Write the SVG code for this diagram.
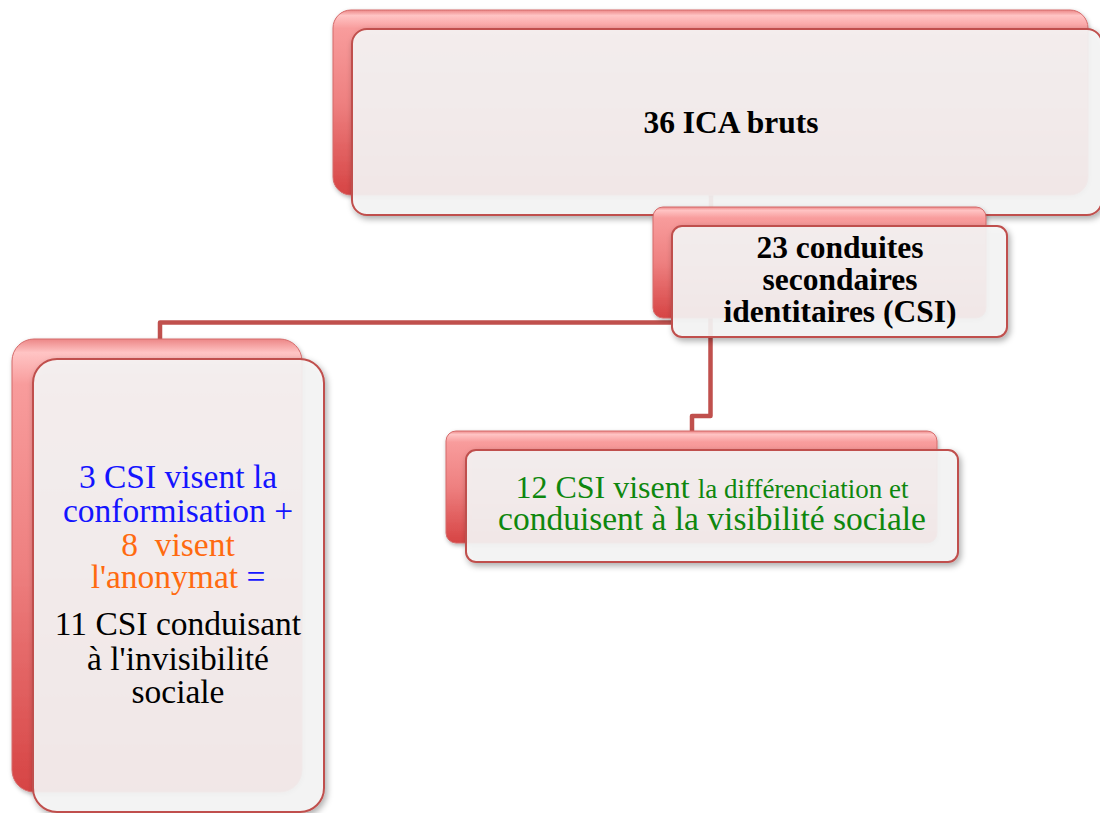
<svg xmlns="http://www.w3.org/2000/svg" width="1100" height="813" viewBox="0 0 1100 813">
<defs>
<linearGradient id="backGrad" x1="0" y1="0" x2="0" y2="1">
<stop offset="0" stop-color="#ec8686"/>
<stop offset="0.03" stop-color="#ffc4c4"/>
<stop offset="0.10" stop-color="#f89c9c"/>
<stop offset="0.5" stop-color="#ee8080"/>
<stop offset="1" stop-color="#d64444"/>
</linearGradient>
<filter id="shadow" x="-10%" y="-10%" width="125%" height="130%">
<feDropShadow dx="2" dy="3" stdDeviation="3" flood-color="#000" flood-opacity="0.35"/>
</filter>
<filter id="backShadow" x="-10%" y="-10%" width="125%" height="130%">
<feDropShadow dx="1" dy="2" stdDeviation="2" flood-color="#000" flood-opacity="0.3"/>
</filter>
</defs>
<style>
.back { fill: url(#backGrad); stroke: #d46a6a; stroke-width: 1; filter: url(#backShadow); }
.front { fill: #f6f6f6; fill-opacity: 0.9; stroke: #c0504d; stroke-width: 2; filter: url(#shadow); }
.conn { fill: none; stroke: #c0504d; stroke-width: 4.5; stroke-linejoin: round; }
text { font-family: "Liberation Serif", "Times New Roman", serif; text-anchor: middle; }
.b { font-weight: bold; font-size: 31.5px; fill: #000; }
.r { font-size: 33.5px; }
</style>
<g id="connectors">
<path class="conn" d="M711 195 V225"/>
<path class="conn" d="M160 340 V322.5 H672"/>
<path class="conn" d="M710.5 318 V416 H692 V431"/>
</g>
<g id="node-ica">
<rect class="back" x="333" y="10" width="755" height="185" rx="18"/>
<rect class="front" x="352" y="29" width="750" height="186" rx="15"/>
<text class="b" x="731" y="133" font-size="32.5">36 ICA bruts</text>
</g>
<g id="node-csi">
<rect class="back" x="653" y="207" width="333" height="111" rx="10"/>
<rect class="front" x="672" y="226" width="335" height="111" rx="10"/>
<text class="b" x="840" y="258">23 conduites</text>
<text class="b" x="840" y="290">secondaires</text>
<text class="b" x="840" y="322">identitaires (CSI)</text>
</g>
<g id="node-invisibilite">
<rect class="back" x="12" y="339" width="290" height="453" rx="22"/>
<rect class="front" x="33" y="359" width="291" height="453" rx="24"/>
<text class="r" x="178" y="488" fill="#1414ff">3 CSI visent la</text>
<text class="r" x="178" y="522" fill="#1414ff">conformisation +</text>
<text class="r" x="178" y="556" fill="#ff6a10">8&#160; visent</text>
<text class="r" x="178" y="588"><tspan fill="#ff6a10">l'anonymat</tspan><tspan fill="#1414ff"> =</tspan></text>
<text class="r" x="178" y="635" fill="#000">11 CSI conduisant</text>
<text class="r" x="178" y="670" fill="#000">à l'invisibilité</text>
<text class="r" x="178" y="703" fill="#000">sociale</text>
</g>
<g id="node-visibilite">
<rect class="back" x="446" y="431" width="491" height="112" rx="10"/>
<rect class="front" x="466" y="450" width="492" height="112" rx="10"/>
<text x="712" y="498" fill="#0e870e"><tspan font-size="32">12 CSI visent </tspan><tspan font-size="27">la différenciation et</tspan></text>
<text class="r" x="712" y="530" fill="#0e870e">conduisent à la visibilité sociale</text>
</g>
</svg>
